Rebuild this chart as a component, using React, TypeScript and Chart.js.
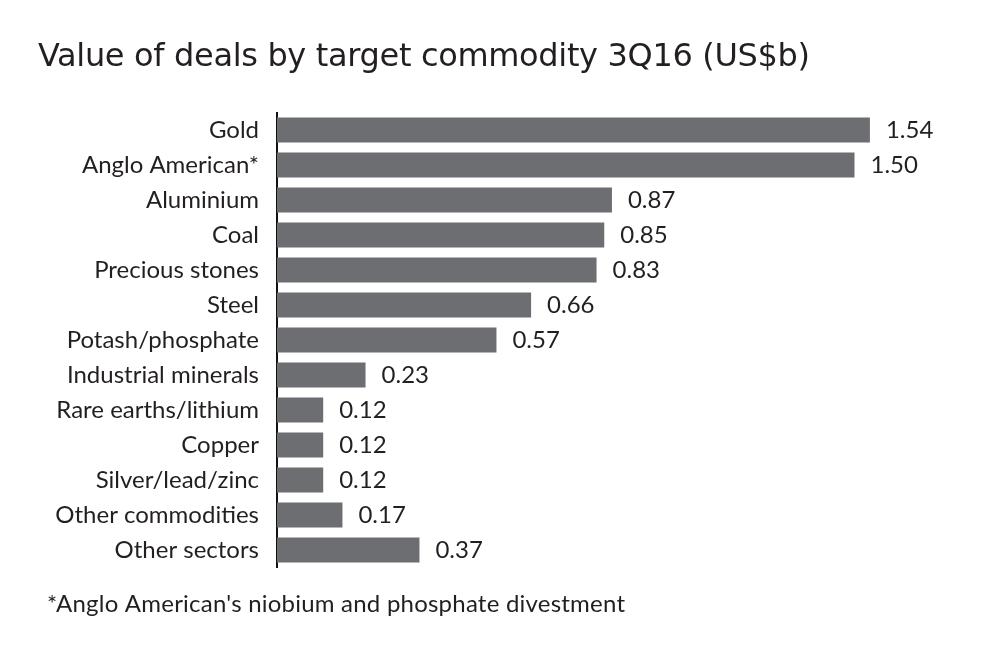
import React, { useEffect, useRef } from "react";
import { Chart, registerables } from "chart.js";

Chart.register(...registerables);

const categories: string[] = [
  "Gold",
  "Anglo American*",
  "Aluminium",
  "Coal",
  "Precious stones",
  "Steel",
  "Potash/phosphate",
  "Industrial minerals",
  "Rare earths/lithium",
  "Copper",
  "Silver/lead/zinc",
  "Other commodities",
  "Other sectors",
];
const values: number[] = [1.54, 1.5, 0.87, 0.85, 0.83, 0.66, 0.57, 0.23, 0.12, 0.12, 0.12, 0.17, 0.37];
const titleText = "Value of deals by target commodity 3Q16 (US$b)";
const footnoteText = "*Anglo American's niobium and phosphate divestment";

const FONT = "Lato, 'Open Sans', sans-serif";
const TITLE_FONT = "'DejaVu Sans', Lato, sans-serif";
const TEXT = "#231f20";
const BAR = "#6d6e71";

function fitText(ctx: any, text: string, x: number, y: number, target: number) {
  ctx.letterSpacing = "0px";
  const w = ctx.measureText(text).width;
  const ls = (target - w) / Math.max(1, text.length - 1);
  ctx.letterSpacing = `${ls}px`;
  ctx.fillText(text, x, y);
  ctx.letterSpacing = "0px";
}

const textPlugin = {
  id: "texts",
  afterDatasetsDraw(chart: any) {
    const ctx = chart.ctx;
    ctx.save();
    ctx.fillStyle = TEXT;
    ctx.textBaseline = "alphabetic";
    ctx.textAlign = "left";
    // value labels
    ctx.font = `24px ${FONT}`;
    const meta = chart.getDatasetMeta(0);
    meta.data.forEach((bar: any, i: number) => {
      ctx.fillText(values[i].toFixed(2), bar.x + 16, bar.y + 8);
    });
    // title
    ctx.font = `32px ${TITLE_FONT}`;
    fitText(ctx, titleText, 38, 66, 772);
    // footnote
    ctx.font = `24px ${FONT}`;
    fitText(ctx, footnoteText, 47, 612, 578);
    ctx.restore();
  },
};

export default function App() {
  const ref = useRef<HTMLCanvasElement>(null);
  useEffect(() => {
    if (!ref.current) return;
    const chart = new Chart(ref.current, {
      type: "bar",
      data: {
        labels: categories,
        datasets: [
          {
            data: values,
            backgroundColor: BAR,
            borderWidth: 0,
            barPercentage: 25 / 35,
            categoryPercentage: 1,
          },
        ],
      },
      options: {
        indexAxis: "y",
        animation: false,
        responsive: false,
        devicePixelRatio: 1,
        layout: { padding: { left: 0, right: 104, top: 112.5, bottom: 83.5 } },
        plugins: {
          legend: { display: false },
          tooltip: { enabled: false },
        },
        scales: {
          x: {
            display: false,
            min: 0,
            max: 1.6,
            grid: { display: false },
          },
          y: {
            afterFit(scale: any) {
              scale.width = 277;
            },
            grid: { display: false, drawTicks: false },
            border: { display: true, color: "#111111", width: 2 },
            ticks: {
              padding: 18,
              color: TEXT,
              font: { family: FONT, size: 24 },
            },
          },
        },
      },
      plugins: [textPlugin],
    });
    return () => chart.destroy();
  }, []);
  return (
    <div style={{ position: "absolute", left: 0, top: 0, width: 997, height: 651, background: "#fff" }}>
      <canvas ref={ref} width={997} height={651} style={{ width: 997, height: 651, display: "block" }} />
    </div>
  );
}
